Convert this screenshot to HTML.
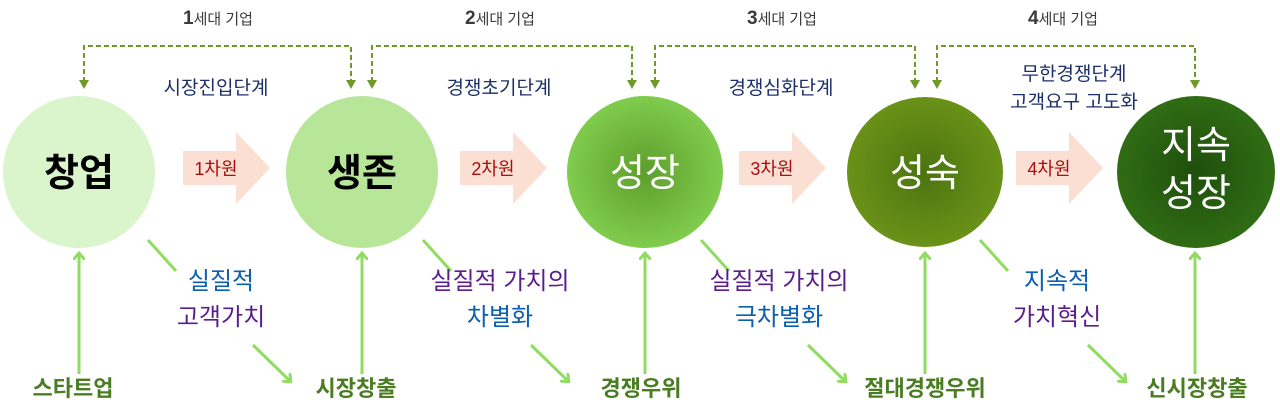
<!DOCTYPE html>
<html><head><meta charset="utf-8"><style>
html,body{margin:0;padding:0;background:#fff;}
svg{display:block;font-family:"Liberation Sans","Noto Sans CJK KR",sans-serif;}
</style></head><body>
<svg width="1280" height="417" viewBox="0 0 1280 417" xmlns="http://www.w3.org/2000/svg">
<defs>
<radialGradient id="g3" cx="50%" cy="50%" r="50%"><stop offset="0" stop-color="#5e9e2c"/><stop offset="1" stop-color="#80cc4e"/></radialGradient>
<radialGradient id="g4" cx="50%" cy="50%" r="50%"><stop offset="0" stop-color="#4a7410"/><stop offset="1" stop-color="#6a9218"/></radialGradient>
<radialGradient id="g5" cx="50%" cy="50%" r="50%"><stop offset="0" stop-color="#1e4f0c"/><stop offset="1" stop-color="#306c14"/></radialGradient>
<marker id="ah" markerWidth="12" markerHeight="12" refX="6" refY="6" orient="auto" markerUnits="userSpaceOnUse"><path d="M0,0 L7,6 L0,12" fill="none" stroke="#8fdc60" stroke-width="3"/></marker>
</defs>
<g fill="none" stroke="#6e9a28" stroke-width="2" stroke-dasharray="5,3">
<path d="M84,82 V46 H351 V82"/><path d="M372,82 V46 H632 V82"/><path d="M655,82 V46 H915 V82"/><path d="M937,82 V46 H1195 V82"/>
</g>
<g fill="#6e9a28">
<path d="M79,80 h10 l-5,9z"/><path d="M346,80 h10 l-5,9z"/><path d="M367,80 h10 l-5,9z"/><path d="M627,80 h10 l-5,9z"/><path d="M650,80 h10 l-5,9z"/><path d="M910,80 h10 l-5,9z"/><path d="M932,80 h10 l-5,9z"/><path d="M1190,80 h10 l-5,9z"/>
</g>
<g fill="#3a3a3a" font-size="15" text-anchor="middle">
<text x="218" y="24"><tspan font-size="19" font-weight="bold">1</tspan>세대 기업</text>
<text x="500" y="24"><tspan font-size="19" font-weight="bold">2</tspan>세대 기업</text>
<text x="782" y="24"><tspan font-size="19" font-weight="bold">3</tspan>세대 기업</text>
<text x="1063" y="24"><tspan font-size="19" font-weight="bold">4</tspan>세대 기업</text>
</g>
<g fill="#1c2f6a" font-size="19" text-anchor="middle">
<text x="216" y="94">시장진입단계</text>
<text x="499" y="94">경쟁초기단계</text>
<text x="781" y="94">경쟁심화단계</text>
<text x="1074" y="80">무한경쟁단계</text>
<text x="1074" y="108">고객요구 고도화</text>
</g>
<ellipse cx="79" cy="172" rx="76" ry="76" fill="#daf4cc"/>
<ellipse cx="362" cy="172" rx="76" ry="76" fill="#b8e698"/>
<ellipse cx="645" cy="172" rx="78" ry="76" fill="url(#g3)"/>
<ellipse cx="925" cy="172" rx="78" ry="75" fill="url(#g4)"/>
<ellipse cx="1196" cy="172" rx="79" ry="76" fill="url(#g5)"/>
<g font-size="38" font-weight="bold" text-anchor="middle">
<text x="79" y="186" fill="#000">창업</text>
<text x="362" y="186" fill="#000">생존</text>
<text x="645" y="186" fill="#fff" font-weight="normal">성장</text>
<text x="925" y="186" fill="#fff" font-weight="normal">성숙</text>
<text x="1196" y="158" fill="#fff" font-weight="normal">지속</text>
<text x="1196" y="206" fill="#fff" font-weight="normal">성장</text>
</g>
<g fill="#fbdfd2">
<path d="M183,151 H236 V132 L270,168 L236,204 V185 H183z"/>
<path d="M460,151 H513 V132 L547,168 L513,204 V185 H460z"/>
<path d="M739,151 H792 V132 L826,168 L792,204 V185 H739z"/>
<path d="M1016,151 H1069 V132 L1103,168 L1069,204 V185 H1016z"/>
</g>
<g fill="#a80f0f" font-size="18" text-anchor="middle">
<text x="216" y="175">1차원</text><text x="493" y="175">2차원</text><text x="772" y="175">3차원</text><text x="1049" y="175">4차원</text>
</g>
<g stroke="#8fdc60" stroke-width="3" fill="none">
<line x1="79" y1="374" x2="79" y2="254" marker-end="url(#ah)"/>
<line x1="362" y1="374" x2="362" y2="254" marker-end="url(#ah)"/>
<line x1="645" y1="374" x2="645" y2="254" marker-end="url(#ah)"/>
<line x1="925" y1="374" x2="925" y2="254" marker-end="url(#ah)"/>
<line x1="1195" y1="374" x2="1195" y2="254" marker-end="url(#ah)"/>
<line x1="148" y1="240" x2="176" y2="271"/><line x1="253" y1="345" x2="290" y2="381" marker-end="url(#ah)"/>
<line x1="423" y1="240" x2="451" y2="271"/><line x1="531" y1="345" x2="568" y2="381" marker-end="url(#ah)"/>
<line x1="701" y1="240" x2="729" y2="271"/><line x1="808" y1="345" x2="845" y2="381" marker-end="url(#ah)"/>
<line x1="980" y1="240" x2="1008" y2="271"/><line x1="1088" y1="345" x2="1125" y2="381" marker-end="url(#ah)"/>
</g>
<g font-size="24" text-anchor="middle">
<text x="221" y="289" fill="#0a5fb0">실질적</text><text x="221" y="325" fill="#5a1e8c">고객가치</text>
<text x="500" y="289" fill="#5a1e8c">실질적 가치의</text><text x="500" y="325" fill="#0a5fb0">차별화</text>
<text x="779" y="289" fill="#5a1e8c">실질적 가치의</text><text x="779" y="325" fill="#0a5fb0">극차별화</text>
<text x="1057" y="289" fill="#0a5fb0">지속적</text><text x="1057" y="325" fill="#5a1e8c">가치혁신</text>
</g>
<g fill="#4a7c22" font-size="22" font-weight="bold" text-anchor="middle">
<text x="73" y="396">스타트업</text><text x="356" y="396">시장창출</text><text x="641" y="396">경쟁우위</text><text x="925" y="396">절대경쟁우위</text><text x="1197" y="396">신시장창출</text>
</g>
</svg>
</body></html>
